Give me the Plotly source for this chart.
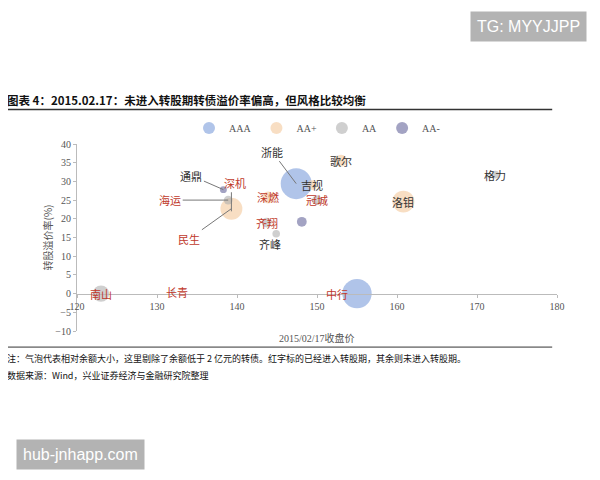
import plotly.graph_objects as go

names   = ["浙能","中行","吉视","歌尔","民生","深燃","洛钼","海运","齐翔","齐峰","冠城","格力","南山","长青","通鼎","歌华"]
ratings = ["AAA","AAA","AA+","AA+","AA+","AA+","AA+","AA","AA","AA","AA","AA","AA","AA","AA-","AA-"]
price   = [147.4,155.0,149.4,153.0,139.3,143.9,160.8,138.9,143.7,144.9,150.0,172.3,123.0,132.0,138.3,148.1]
premium = [29.4,0.0,29.0,35.5,22.7,25.7,24.6,25.0,19.0,16.0,25.0,31.8,0.0,0.5,27.8,19.2]
balance = [100,90,10,15,50,15,50,8,10,6,10,6,28,1,5,10]
converted = ["中行","民生","深燃","海运","齐翔","冠城","南山","长青","歌华","深机"]

colors = {"AAA":"rgba(115,150,215,0.8)","AA+":"rgba(243,200,155,0.85)",
          "AA":"rgba(175,175,175,0.85)","AA-":"rgba(110,110,160,0.9)"}
sizeref = 2*max(balance)/(31**2)

fig = go.Figure()
for r in ["AAA","AA+","AA","AA-"]:
    idx = [i for i,x in enumerate(ratings) if x==r]
    fig.add_trace(go.Scatter(x=[price[i] for i in idx], y=[premium[i] for i in idx],
        mode="markers", name=r,
        marker=dict(size=[balance[i] for i in idx], sizemode="area", sizeref=sizeref,
                    sizemin=2, color=colors[r], line=dict(width=0))))

RED="#c0392b"; BLK="#333333"
def lab(t, x, y, ax=0, ay=0, arrow=False):
    fig.add_annotation(x=x, y=y, text=t, showarrow=arrow, ax=ax, ay=ay,
        xshift=0 if arrow else ax, yshift=0 if arrow else -ay,
        arrowhead=0, arrowwidth=1, arrowcolor="#777",
        font=dict(family="Noto Sans CJK SC", size=11, color=RED if t in converted else BLK))
pos = dict(zip(names, zip(price, premium)))
lab("浙能", *pos["浙能"], -24, -32, True)
lab("中行", *pos["中行"], -20, 0)
lab("吉视", *pos["吉视"], 0, 0)
lab("歌尔", *pos["歌尔"], 0, 0)
lab("民生", *pos["民生"], -42, 30, True)
lab("深燃", *pos["深燃"], 0, 0)
lab("洛钼", *pos["洛钼"], 0, 0)
lab("海运", *pos["海运"], -58, 0, True)
lab("齐翔", *pos["齐翔"], 0, 0)
lab("齐峰", *pos["齐峰"], -6, 10)
lab("冠城", *pos["冠城"], 0, 0)
lab("格力", *pos["格力"], 0, 0)
lab("南山", *pos["南山"], 0, 0)
lab("长青", *pos["长青"], 4, 0)
lab("通鼎", *pos["通鼎"], -32, -14, True)
fig.add_annotation(x=139.3, y=22.0, ax=139.3, ay=27.5, axref="x", ayref="y", showarrow=True,
                   arrowhead=0, arrowwidth=1, arrowcolor="#777", text="")
lab("深机", 139.8, 29.5, 0, 0)

def note(text, x, y, size=9, color="#111", xanchor="left", **kw):
    fig.add_annotation(x=x, y=y, xref="paper", yref="paper", xanchor=xanchor, yanchor="middle",
                       showarrow=False, text=text,
                       font=dict(family="Noto Sans CJK SC", size=size, color=color), **kw)

fig.add_annotation(x=0.5, y=-0.035, xref="paper", yref="paper", showarrow=False, yanchor="middle",
                   text="2015/02/17收盘价", font=dict(family="Liberation Serif, Noto Sans CJK SC", size=10, color="#555"))
note("转股溢价率(%)", -0.0625, 0.5, size=10, color="#555", xanchor="center", textangle=-90)
note("<b>图表 4：2015.02.17：未进入转股期转债溢价率偏高，但风格比较均衡</b>", -0.15, 1.235, size=11.5)
fig.add_shape(type="line", xref="paper", yref="paper", x0=-0.15, x1=0.99, y0=1.185, y1=1.185,
              line=dict(color="#333", width=1.5))
fig.add_shape(type="line", xref="paper", yref="paper", x0=-0.15, x1=0.99, y0=-0.086, y1=-0.086,
              line=dict(color="#333", width=1))
note("注：气泡代表相对余额大小，这里剔除了余额低于 2 亿元的转债。红字标的已经进入转股期，其余则未进入转股期。", -0.15, -0.145)
note("数据来源：Wind，兴业证券经济与金融研究院整理", -0.15, -0.24)
fig.add_annotation(x=0.94, y=1.63, xref="paper", yref="paper", xanchor="center", yanchor="middle",
                   showarrow=False, text="TG: MYYJJPP",
                   bgcolor="#b3b3b3", borderpad=6, font=dict(family="Liberation Sans", size=16, color="white"))
fig.add_annotation(x=0.008, y=-0.66, xref="paper", yref="paper", xanchor="center", yanchor="middle",
                   showarrow=False, text="hub-jnhapp.com",
                   bgcolor="#b3b3b3", borderpad=6, font=dict(family="Liberation Sans", size=16, color="white"))

fig.update_layout(width=600, height=480, margin=dict(l=69, r=51, t=136, b=157),
    paper_bgcolor="white", plot_bgcolor="white", font=dict(family="Liberation Serif", size=10, color="#555"),
    legend=dict(orientation="h", x=0.5, xanchor="center", y=1.085, yanchor="middle", bgcolor="rgba(0,0,0,0)",
                font=dict(family="Liberation Serif", size=10, color="#555"), itemsizing="constant",
                itemwidth=30, tracegroupgap=0),
    xaxis=dict(range=[120,180], dtick=10, anchor="free", position=0.198, showline=True,
               linecolor="#bbb", ticks="outside", tickcolor="#bbb", ticklen=3, showgrid=False, zeroline=False),
    yaxis=dict(range=[-10,40], dtick=5, showline=True, linecolor="#bbb", ticks="outside",
               tickcolor="#bbb", ticklen=3, showgrid=False, zeroline=False))
fig.write_html("out.html")
